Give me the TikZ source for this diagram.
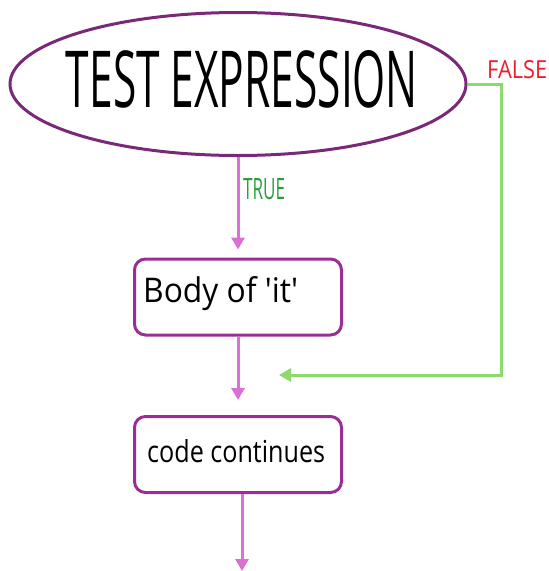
\documentclass[tikz,border=0pt]{standalone}
\usepackage{fontspec}
\setmainfont{Open Sans}
\usetikzlibrary{arrows.meta,shapes.geometric}
\definecolor{ellpurple}{HTML}{7A2878}
\definecolor{boxpurple}{HTML}{9A2E96}
\definecolor{pinkline}{HTML}{DA70D6}
\definecolor{greenline}{HTML}{8CD96E}
\definecolor{truegreen}{HTML}{2A9D3A}
\definecolor{falsered}{HTML}{E8202A}
\tikzset{
  decision/.style={ellipse, draw=ellpurple, line width=3pt, minimum width=456pt, minimum height=143pt, inner sep=0pt},
  procbox/.style={rectangle, rounded corners=11pt, draw=boxpurple, line width=3pt, minimum width=207pt, minimum height=76pt, inner sep=0pt},
  handtext/.style={inner sep=0pt, text=black},
  flowarrow/.style={draw=pinkline, line width=3pt, -{Triangle[width=13pt,length=12pt]}},
  falsearrow/.style={draw=greenline, line width=3pt, -{Triangle[width=13pt,length=12pt]}},
}
\begin{document}
\begin{tikzpicture}[x=1pt,y=-1pt]
\useasboundingbox (0,0) rectangle (549,571);
\node[decision] (test) at (238,84) {};
\node[handtext, anchor=base] (testtext) at (242,107) {\resizebox{352pt}{57pt}{TEST EXPRESSION}};
\node[procbox] (body) at (238,297) {};
\node[handtext, anchor=base west] (bodytext) at (143,302) {\resizebox{155pt}{26pt}{Body of \textquotesingle it\textquotesingle}};
\node[procbox] (cont) at (238,454.5) {};
\node[handtext, anchor=base west] (conttext) at (147,462) {\resizebox{178pt}{23pt}{code continues}};
\node[inner sep=0pt, text=truegreen, anchor=base west] (truelbl) at (243,199) {\resizebox{42pt}{21pt}{TRUE}};
\node[inner sep=0pt, text=falsered, anchor=base west] (falselbl) at (487,78) {\resizebox{60pt}{18pt}{FALSE}};
\coordinate (gturn) at (501,375);
\coordinate (gend) at (279,375);
\coordinate (outend) at (242,571);
\draw[flowarrow, shorten >=8pt] (test.south) -- (body.north);
\draw[flowarrow, shorten >=15pt] (body.south) -- (cont.north);
\draw[flowarrow] (cont.south -| outend) -- (outend);
\draw[falsearrow] (test.east) -| (gturn) -- (gend);
\end{tikzpicture}
\end{document}
